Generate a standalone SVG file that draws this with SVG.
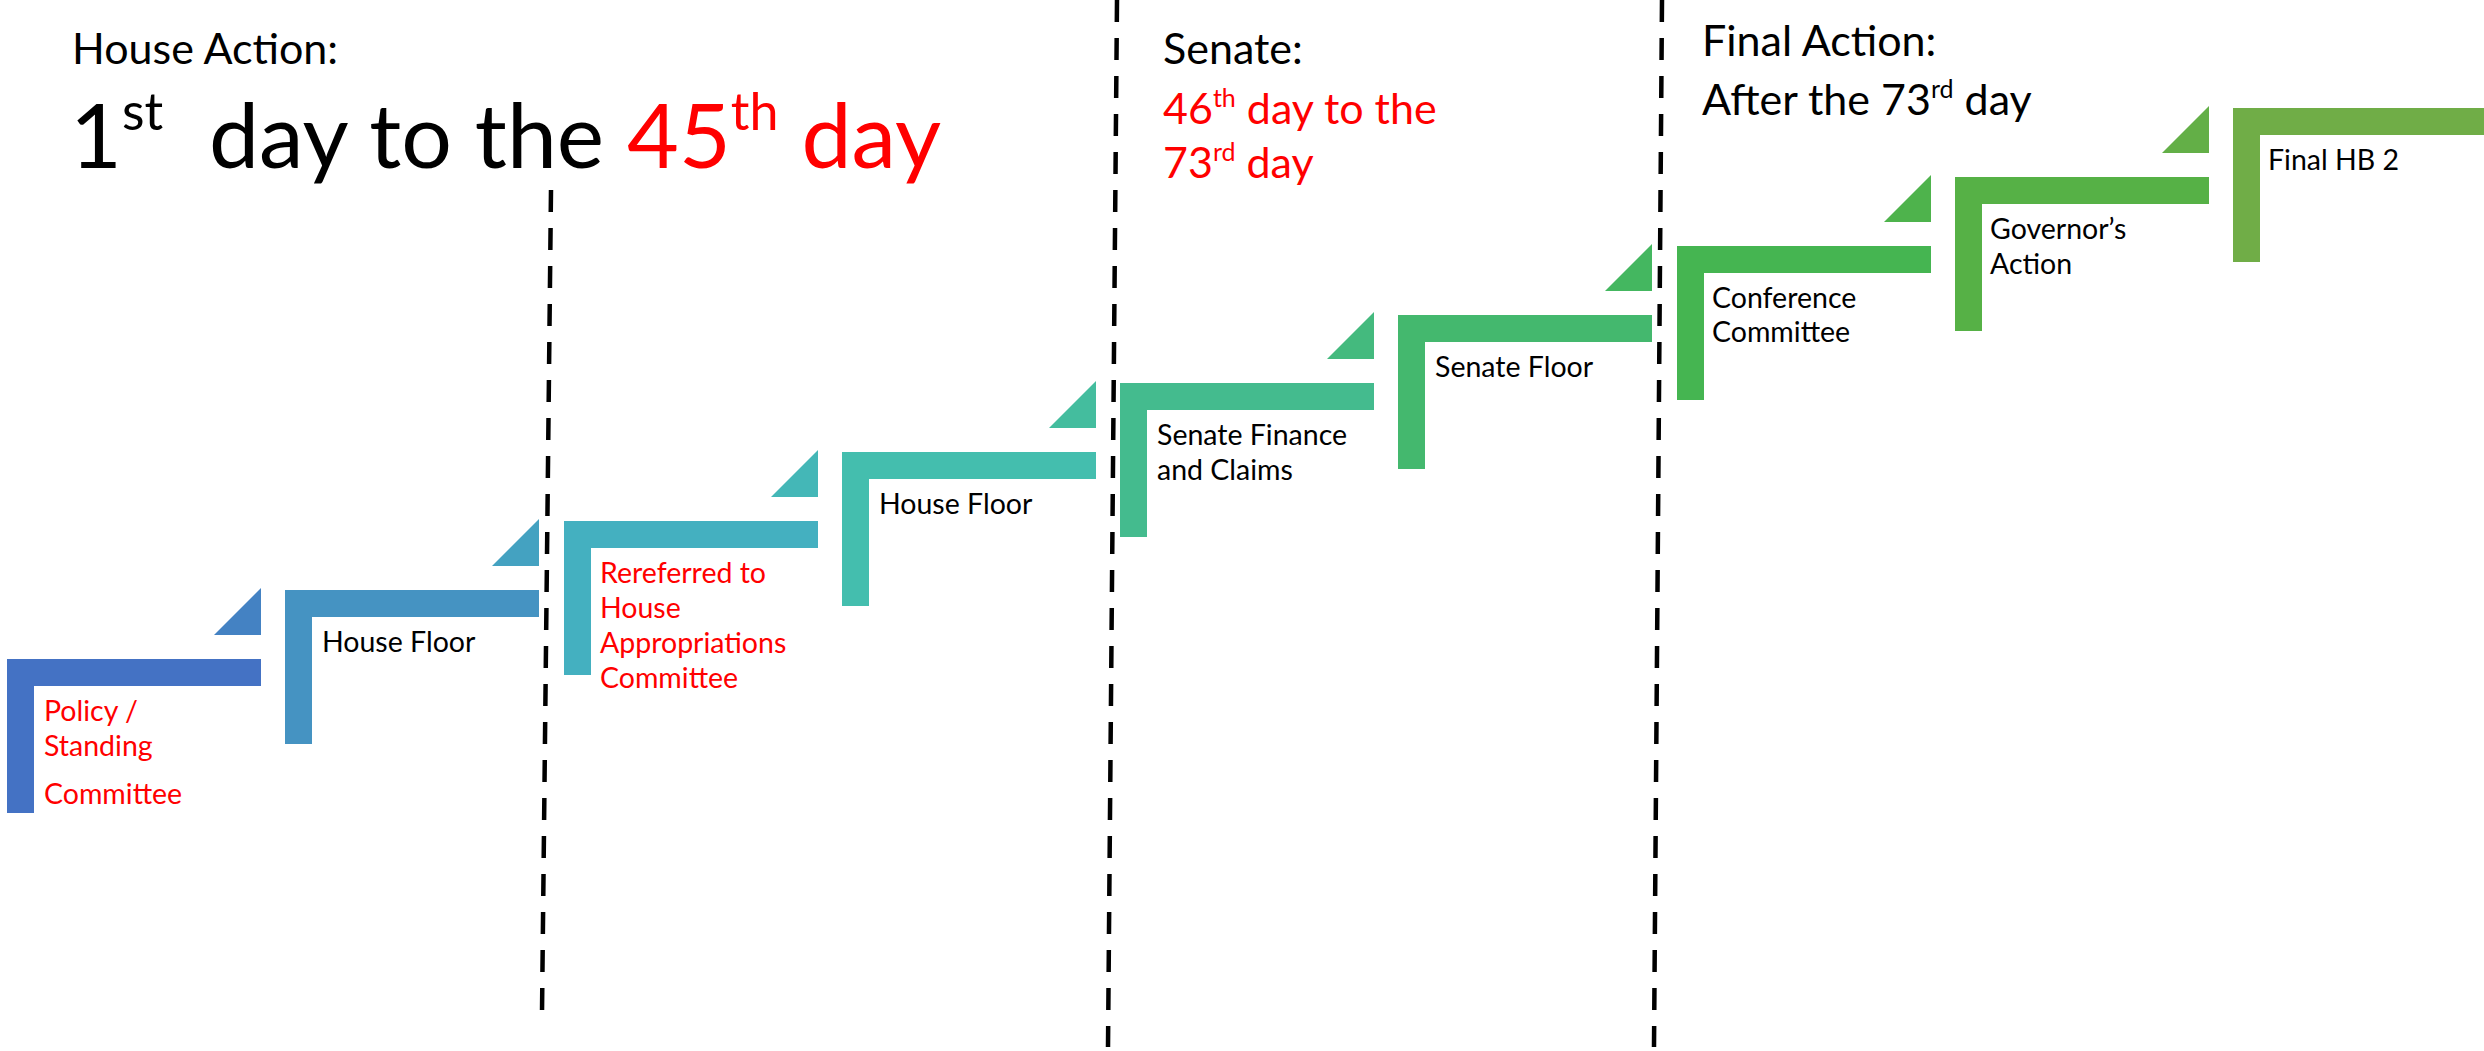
<svg xmlns="http://www.w3.org/2000/svg" width="2484" height="1051" viewBox="0 0 2484 1051">
<style>
.lbl{font-family:Lato,"Open Sans","Liberation Sans",sans-serif;font-size:28.5px;fill:#000}
.hd{font-family:Lato,"Open Sans","Liberation Sans",sans-serif;font-size:43px;fill:#000}
.big{font-family:Lato,"Open Sans","Liberation Sans",sans-serif;font-size:89.5px;fill:#000}
text.red,tspan.red{fill:#FF0000}
.div{stroke:#000;stroke-width:4.5;stroke-dasharray:22 16;fill:none}
</style>
<rect width="2484" height="1051" fill="#fff"/>
<g id="headings">
<text class="hd" x="72" y="64">House Action:</text>
<text class="big" x="70" y="168">1<tspan font-size="52" dy="-38">st</tspan><tspan dy="38" xml:space="preserve">  day to the </tspan><tspan class="red">45</tspan><tspan class="red" font-size="52" dy="-38">th</tspan><tspan class="red" dy="38"> day</tspan></text>
<text class="hd" x="1163" y="64">Senate:</text>
<text class="hd red" x="1163" y="124">46<tspan font-size="25" dy="-17">th</tspan><tspan dy="17"> day to the</tspan></text>
<text class="hd red" x="1163" y="178">73<tspan font-size="25" dy="-17">rd</tspan><tspan dy="17"> day</tspan></text>
<text class="hd" x="1702" y="56">Final Action:</text>
<text class="hd" x="1702" y="115">After the 73<tspan font-size="25" dy="-17">rd</tspan><tspan dy="17"> day</tspan></text>
</g>
<g id="dividers">
<line class="div" x1="551" y1="190" x2="542" y2="1013"/>
<line class="div" x1="1117" y1="0" x2="1108" y2="1047"/>
<line class="div" x1="1662" y1="0" x2="1654" y2="1047"/>
</g>
<g id="connectors">
<polygon points="214,635 261,635 261,588" fill="#4482C3"/>
<polygon points="492,566 539,566 539,519" fill="#44A2C1"/>
<polygon points="771,497 818,497 818,450" fill="#44B7B7"/>
<polygon points="1049,428 1096,428 1096,381" fill="#44BD9E"/>
<polygon points="1327,359 1374,359 1374,312" fill="#44BA7E"/>
<polygon points="1605,291 1652,291 1652,244" fill="#44B760"/>
<polygon points="1884,222 1931,222 1931,175" fill="#4EB34C"/>
<polygon points="2162,153 2209,153 2209,106" fill="#63AF47"/>
</g>
<g id="step1">
<path d="M7,659H261V686H34V813H7Z" fill="#4472C4"/>
<text class="lbl red" x="44" y="721">Policy /</text>
<text class="lbl red" x="44" y="756">Standing</text>
<text class="lbl red" x="44" y="804">Committee</text>
</g>
<g id="step2">
<path d="M285,590H539V617H312V744H285Z" fill="#4593C2"/>
<text class="lbl" x="322" y="652">House Floor</text>
</g>
<g id="step3">
<path d="M564,521H818V548H591V675H564Z" fill="#44B0C0"/>
<text class="lbl red" x="600" y="583">Rereferred to</text>
<text class="lbl red" x="600" y="618">House</text>
<text class="lbl red" x="600" y="653">Appropriations</text>
<text class="lbl red" x="600" y="688">Committee</text>
</g>
<g id="step4">
<path d="M842,452H1096V479H869V606H842Z" fill="#44BEAE"/>
<text class="lbl" x="879" y="514">House Floor</text>
</g>
<g id="step5">
<path d="M1120,383H1374V410H1147V537H1120Z" fill="#44BB8E"/>
<text class="lbl" x="1157" y="445">Senate Finance</text>
<text class="lbl" x="1157" y="480">and Claims</text>
</g>
<g id="step6">
<path d="M1398,315H1652V342H1425V469H1398Z" fill="#44B86E"/>
<text class="lbl" x="1435" y="377">Senate Floor</text>
</g>
<g id="step7">
<path d="M1677,246H1931V273H1704V400H1677Z" fill="#45B551"/>
<text class="lbl" x="1712" y="308">Conference</text>
<text class="lbl" x="1712" y="342">Committee</text>
</g>
<g id="step8">
<path d="M1955,177H2209V204H1982V331H1955Z" fill="#56B146"/>
<text class="lbl" x="1990" y="239">Governor’s</text>
<text class="lbl" x="1990" y="274">Action</text>
</g>
<g id="step9">
<path d="M2233,108H2487V135H2260V262H2233Z" fill="#70AD47"/>
<text class="lbl" x="2268" y="170">Final HB 2</text>
</g>
</svg>
